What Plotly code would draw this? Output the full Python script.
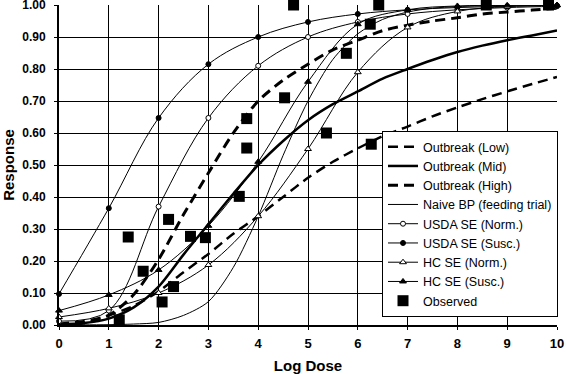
import plotly.graph_objects as go

# ---------------- data ----------------
dose_int = [0, 1, 2, 3, 4, 5, 6, 7, 8, 9, 10]

usda_norm = [0.012, 0.045, 0.37, 0.647, 0.81, 0.90, 0.947, 0.972, 0.985, 0.992, 0.996]
usda_susc = [0.097, 0.365, 0.647, 0.815, 0.90, 0.947, 0.972, 0.985, 0.992, 0.996, 0.998]
hc_norm = [0.025, 0.052, 0.10, 0.1875, 0.34, 0.55, 0.79, 0.93, 0.98, 0.995, 0.999]
hc_susc = [0.045, 0.094, 0.172, 0.31, 0.51, 0.76, 0.94, 0.985, 0.997, 0.999, 1.0]

outbreak_dose = [0, 0.5, 1, 1.5, 2, 2.5, 3, 3.5, 4, 4.5, 5, 5.5, 6, 6.5, 7, 7.5, 8, 8.5, 9, 9.5, 10]
outbreak_low = [0.004, 0.012, 0.03, 0.06, 0.105, 0.165, 0.222, 0.285, 0.34, 0.40, 0.46, 0.51, 0.552, 0.59, 0.62, 0.652, 0.68, 0.706, 0.73, 0.753, 0.775]
outbreak_mid = [0.002, 0.006, 0.02, 0.055, 0.12, 0.22, 0.315, 0.41, 0.50, 0.575, 0.64, 0.69, 0.73, 0.77, 0.80, 0.828, 0.853, 0.873, 0.89, 0.905, 0.92]
outbreak_high = [0.001, 0.006, 0.03, 0.095, 0.205, 0.345, 0.475, 0.60, 0.70, 0.765, 0.815, 0.86, 0.89, 0.92, 0.937, 0.95, 0.96, 0.972, 0.978, 0.984, 0.99]

naive_dose = [0, 0.5, 1, 1.5, 2, 2.5, 3, 3.5, 4, 4.5, 5, 5.5, 6, 6.5, 7, 7.5, 8, 9, 10]
naive_bp = [0.0, 0.0005, 0.001, 0.003, 0.008, 0.03, 0.073, 0.18, 0.34, 0.53, 0.70, 0.83, 0.91, 0.955, 0.978, 0.99, 0.995, 0.999, 1.0]

obs_dose = [1.21, 1.39, 1.69, 2.07, 2.2, 2.3, 2.64, 2.94, 3.62, 3.77, 3.77, 4.53, 4.71, 5.37, 5.77, 6.25, 6.27, 6.42, 8.58, 9.83]
obs_resp = [0.016, 0.275, 0.168, 0.072, 0.33, 0.12, 0.277, 0.273, 0.402, 0.553, 0.645, 0.71, 1.0, 0.60, 0.849, 0.94, 0.565, 1.0, 1.0, 1.0]

x_ticks = [0, 1, 2, 3, 4, 5, 6, 7, 8, 9, 10]
y_ticks = [0.0, 0.1, 0.2, 0.3, 0.4, 0.5, 0.6, 0.7, 0.8, 0.9, 1.0]
y_tick_labels = ["0.00", "0.10", "0.20", "0.30", "0.40", "0.50", "0.60", "0.70", "0.80", "0.90", "1.00"]

# ---------------- figure ----------------
fig = go.Figure()

DASH = "10px,6px"
fig.add_trace(go.Scatter(x=outbreak_dose, y=outbreak_low, mode="lines", name="Outbreak (Low)",
                         line=dict(color="black", width=2.5, dash=DASH, shape="spline", smoothing=0.8)))
fig.add_trace(go.Scatter(x=outbreak_dose, y=outbreak_mid, mode="lines", name="Outbreak (Mid)",
                         line=dict(color="black", width=2.5, shape="spline", smoothing=0.8)))
fig.add_trace(go.Scatter(x=outbreak_dose, y=outbreak_high, mode="lines", name="Outbreak (High)",
                         line=dict(color="black", width=3, dash=DASH, shape="spline", smoothing=0.8)))
fig.add_trace(go.Scatter(x=naive_dose, y=naive_bp, mode="lines", name="Naive BP (feeding trial)",
                         line=dict(color="black", width=1, shape="spline", smoothing=0.8)))

def se_trace(name, y, symbol, fill):
    return go.Scatter(x=dose_int, y=y, mode="lines+markers", name=name,
                      line=dict(color="black", width=1, shape="spline", smoothing=1),
                      marker=dict(symbol=symbol, size=5 if "circle" in symbol else 6, color=fill,
                                  line=dict(color="black", width=1)),
                      cliponaxis=False)

fig.add_trace(se_trace("USDA SE (Norm.)", usda_norm, "circle", "white"))
fig.add_trace(se_trace("USDA SE (Susc.)", usda_susc, "circle", "black"))
fig.add_trace(se_trace("HC SE (Norm.)", hc_norm, "triangle-up", "white"))
fig.add_trace(se_trace("HC SE (Susc.)", hc_susc, "triangle-up", "black"))

fig.add_trace(go.Scatter(x=obs_dose, y=obs_resp, mode="markers", name="Observed",
                         marker=dict(symbol="square", size=11, color="black"), cliponaxis=False))

FONT = "Liberation Sans, Arial, sans-serif"
fig.update_layout(
    width=567, height=374,
    margin=dict(l=59, r=10, t=5, b=49, autoexpand=False),
    paper_bgcolor="white", plot_bgcolor="white",
    font=dict(family=FONT, color="black"),
    showlegend=True,
    legend=dict(x=0.6486, y=0.606, xanchor="left", yanchor="top",
                bgcolor="white", bordercolor="black", borderwidth=1,
                font=dict(family=FONT, size=12.5, color="black"),
                tracegroupgap=0, itemwidth=30),
)
fig.update_xaxes(range=[0, 10], tickvals=x_ticks, showgrid=True, gridcolor="black", gridwidth=1,
                 showline=True, linecolor="black", linewidth=2, zeroline=False,
                 ticks="outside", ticklen=3, tickcolor="black", automargin=False,
                 ticklabeloverflow="allow", ticklabelstandoff=2,
                 tickfont=dict(family=FONT, size=13, weight="bold"),
                 title=dict(text="Log Dose", font=dict(family=FONT, size=15, weight="bold"), standoff=12))
fig.update_yaxes(range=[0, 1], tickvals=y_ticks, ticktext=y_tick_labels, showgrid=True,
                 gridcolor="black", gridwidth=1,
                 showline=True, linecolor="black", linewidth=2, zeroline=False,
                 ticks="outside", ticklen=3, tickcolor="black", automargin=False,
                 ticklabeloverflow="allow", ticklabelstandoff=6,
                 tickfont=dict(family=FONT, size=12, weight="bold"),
                 title=dict(text="Response", font=dict(family=FONT, size=15, weight="bold"), standoff=9))

fig.write_html("out.html", config={"displayModeBar": False},
               post_script="document.body.style.margin='0';document.body.style.padding='0';")
